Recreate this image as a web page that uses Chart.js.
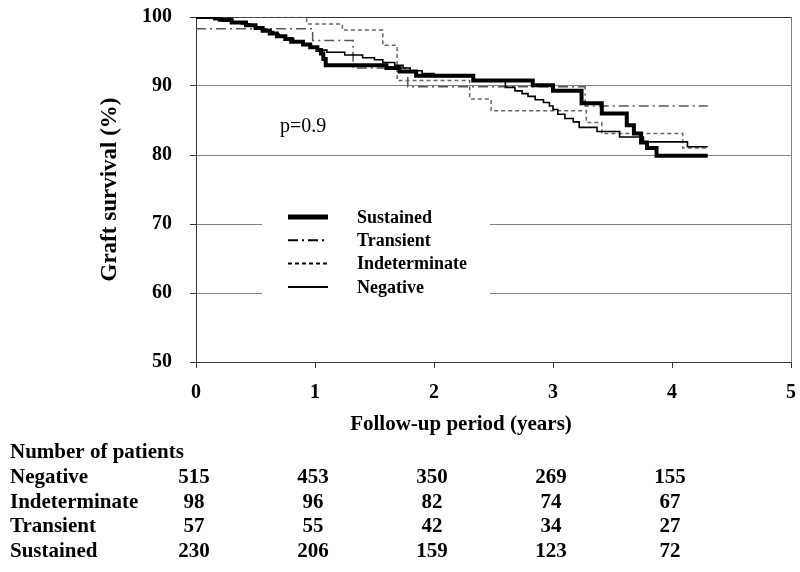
<!DOCTYPE html>
<html>
<head>
<meta charset="utf-8">
<script src="https://cdn.jsdelivr.net/npm/chart.js@4.4.1/dist/chart.umd.min.js"></script>
<style>
  html, body { margin: 0; padding: 0; background: #fff; }
  #wrap { width: 800px; height: 572px; }
</style>
</head>
<body>
<div id="wrap"><canvas id="km" width="800" height="572"></canvas></div>
<script>
// Kaplan-Meier curves: time (years) / graft survival (%)
const sustainedTimes = [0, 0.2, 0.3, 0.42, 0.5, 0.56, 0.62, 0.68, 0.75, 0.8, 0.9, 0.96, 1.02, 1.05, 1.07, 1.09, 1.6, 1.71, 1.85, 2.33, 2.83, 3.0, 3.24, 3.41, 3.62, 3.68, 3.74, 3.79, 3.87, 4.3];
const sustainedSurv = [100, 99.6, 99.2, 98.8, 98.4, 98.0, 97.6, 97.2, 96.8, 96.4, 96.0, 95.6, 95.2, 94.7, 93.9, 93.0, 92.6, 92.1, 91.5, 90.8, 90.1, 89.3, 87.5, 86.0, 84.3, 83.1, 81.8, 81.0, 79.9, 79.9];

const transientTimes = [0, 0.98, 1.32, 1.78, 3.27, 4.3];
const transientSurv = [98.3, 96.6, 92.6, 89.9, 87.1, 87.1];

const indeterminateTimes = [0, 0.93, 1.23, 1.57, 1.69, 2.3, 2.48, 3.28, 3.41, 4.09, 4.3];
const indeterminateSurv = [100, 99.0, 98.1, 95.9, 90.8, 88.1, 86.4, 84.7, 83.1, 81.0, 81.0];

const negativeTimes = [0, 0.15, 0.22, 0.3, 0.38, 0.45, 0.5, 0.55, 0.6, 0.65, 0.7, 0.76, 0.82, 0.9, 0.96, 1.02, 1.1, 1.25, 1.4, 1.5, 1.57, 1.67, 1.74, 1.8, 1.9, 2.0, 2.33, 2.6, 2.68, 2.74, 2.79, 2.85, 2.92, 2.97, 3.0, 3.04, 3.1, 3.17, 3.22, 3.37, 3.56, 3.76, 4.13, 4.3];
const negativeSurv = [100, 99.6, 99.4, 99.2, 99.0, 98.8, 98.5, 98.2, 97.9, 97.5, 97.2, 96.9, 96.5, 96.1, 95.6, 95.2, 94.9, 94.5, 94.1, 93.8, 93.4, 93.0, 92.6, 92.2, 91.8, 91.4, 90.7, 89.8, 89.3, 88.9, 88.5, 88.0, 87.6, 87.1, 86.6, 85.9, 85.3, 84.8, 84.0, 83.4, 82.6, 81.9, 81.2, 81.2];

// number at risk table
const tableYears = [0, 1, 2, 3, 4];
const tableGroups = ['Negative', 'Indeterminate', 'Transient', 'Sustained'];
const negativeAtRisk = [515, 453, 350, 269, 155];
const indeterminateAtRisk = [98, 96, 82, 74, 67];
const transientAtRisk = [57, 55, 42, 34, 27];
const sustainedAtRisk = [230, 206, 159, 123, 72];

const pValueText = 'p=0.9';
const xTitle = 'Follow-up period (years)';

const SERIF = "'Liberation Serif', 'Times New Roman', serif";

function toPoints(times, surv) {
    return times.map((t, i) => ({ x: t, y: surv[i] }));
}

function stepSet(label, times, surv, color, width, dash, legendWidth) {
    return {
        label: label,
        data: toPoints(times, surv),
        borderColor: color,
        borderWidth: width,
        borderDash: dash,
        legendWidth: legendWidth,
        stepped: 'before',
        pointRadius: 0,
        fill: false
    };
}

// legend box + p value + x title + patients table
const extrasPlugin = {
    id: 'extras',
    afterDraw(chart) {
        const ctx = chart.ctx;
        const xs = chart.scales.x;
        ctx.save();

        // legend inside plot
        ctx.fillStyle = '#fff';
        ctx.fillRect(262, 202, 228, 102);
        const order = ['Sustained', 'Transient', 'Indeterminate', 'Negative'];
        ctx.font = 'bold 18px ' + SERIF;
        ctx.textBaseline = 'middle';
        ctx.textAlign = 'left';
        order.forEach((name, i) => {
            const ds = chart.data.datasets.find(d => d.label === name);
            const y = 217 + i * 23.3;
            ctx.beginPath();
            ctx.strokeStyle = '#000';
            ctx.lineWidth = ds.legendWidth;
            ctx.setLineDash(ds.borderDash);
            ctx.moveTo(288, y);
            ctx.lineTo(328, y);
            ctx.stroke();
            ctx.setLineDash([]);
            ctx.fillStyle = '#000';
            ctx.fillText(name, 357, y + 1);
        });

        // p value
        ctx.font = '20px ' + SERIF;
        ctx.fillText(pValueText, 280, 127);

        // x axis title (sits left of the plot centre in the original)
        ctx.font = 'bold 21px ' + SERIF;
        ctx.textAlign = 'center';
        ctx.fillText(xTitle, 461, 425);

        // number of patients
        const rows = [negativeAtRisk, indeterminateAtRisk, transientAtRisk, sustainedAtRisk];
        ctx.font = 'bold 21px ' + SERIF;
        ctx.textAlign = 'left';
        ctx.fillText('Number of patients', 10, 453);
        tableGroups.forEach((g, r) => {
            const y = 478 + r * 24.4;
            ctx.textAlign = 'left';
            ctx.fillText(g, 10, y);
            ctx.textAlign = 'center';
            rows[r].forEach((n, c) => {
                ctx.fillText(String(n), xs.getPixelForValue(tableYears[c]) - 2, y);
            });
        });
        ctx.restore();
    }
};

new Chart(document.getElementById('km'), {
    type: 'line',
    data: {
        datasets: [
            stepSet('Sustained', sustainedTimes, sustainedSurv, '#000', 4, [], 5),
            stepSet('Negative', negativeTimes, negativeSurv, '#000', 1.6, [], 2),
            stepSet('Indeterminate', indeterminateTimes, indeterminateSurv, '#666', 1.5, [4, 3], 2),
            stepSet('Transient', transientTimes, transientSurv, '#555', 1.5, [10, 4, 2, 4], 2)
        ]
    },
    options: {
        responsive: false,
        animation: false,
        devicePixelRatio: 1,
        layout: { padding: { top: 17, right: 9, bottom: 132, left: 0 } },
        plugins: {
            legend: { display: false },
            tooltip: { enabled: false }
        },
        scales: {
            x: {
                type: 'linear',
                min: 0,
                max: 5,
                ticks: {
                    stepSize: 1,
                    padding: 13,
                    color: '#000',
                    font: { family: SERIF, size: 20, weight: 'bold' }
                },
                grid: {
                    color: c => (c.tick && c.tick.value === 5) ? '#808080' : 'rgba(0,0,0,0)',
                    tickColor: '#333',
                    tickLength: 6
                },
                border: { color: '#333', width: 1 },
                afterFit: scale => {
                    scale.height = 78;
                    scale.paddingLeft = 0;
                    scale.paddingRight = 0;
                }
            },
            y: {
                min: 50,
                max: 100,
                ticks: {
                    stepSize: 10,
                    padding: 18,
                    color: '#000',
                    font: { family: SERIF, size: 20, weight: 'bold' }
                },
                grid: {
                    color: c => (c.tick && c.tick.value === 100) ? '#333' : '#808080',
                    tickColor: '#333',
                    tickLength: 6
                },
                border: { color: '#333', width: 1 },
                title: {
                    display: true,
                    text: 'Graft survival (%)',
                    color: '#000',
                    font: { family: SERIF, size: 23, weight: 'bold' },
                    padding: { top: 96, bottom: 0 }
                },
                afterFit: scale => {
                    scale.width = 196;
                    scale.paddingTop = 0;
                    scale.paddingBottom = 0;
                }
            }
        }
    },
    plugins: [extrasPlugin]
});
</script>
</body>
</html>
